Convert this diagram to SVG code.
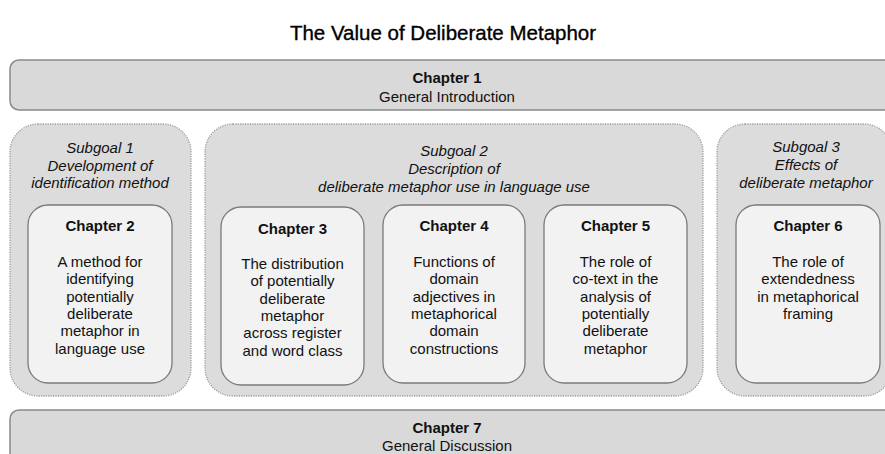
<svg xmlns="http://www.w3.org/2000/svg" width="885" height="454" viewBox="0 0 885 454">
<style>
.bar{fill:#d9d9d9;stroke:#8a8a8a;stroke-width:1.5}
.sg{fill:#dcdcdc;stroke:#9a9a9a;stroke-width:1.3;stroke-dasharray:1.2 1.2}
.ch{fill:#f2f2f2;stroke:#7a7a7a;stroke-width:1.3}
text{font-family:"Liberation Sans",Arial,sans-serif;fill:#111;text-anchor:middle;font-size:15px}
.b{font-weight:bold}
.i{font-style:italic}
.title{font-size:20.5px;fill:#000;stroke:#000;stroke-width:0.35}
</style>
<text class="title" x="443" y="40">The Value of Deliberate Metaphor</text>
<g id="chapter1">
<rect class="bar" x="10" y="60" width="890" height="50" rx="9"/>
<text class="b" x="447" y="83">Chapter 1</text>
<text x="447" y="102">General Introduction</text>
</g>
<g id="subgoal1">
<rect class="sg" x="10" y="124" width="181" height="272" rx="28"/>
<text class="i" x="100" y="153">Subgoal 1</text>
<text class="i" x="100" y="170.5">Development of</text>
<text class="i" x="100" y="188">identification method</text>
</g>
<g id="subgoal2">
<rect class="sg" x="205" y="124" width="498" height="272" rx="28"/>
<text class="i" x="454" y="156">Subgoal 2</text>
<text class="i" x="454" y="174">Description of</text>
<text class="i" x="454" y="191.5">deliberate metaphor use in language use</text>
</g>
<g id="subgoal3">
<rect class="sg" x="717" y="124" width="175" height="272" rx="28"/>
<text class="i" x="806" y="152">Subgoal 3</text>
<text class="i" x="806" y="170">Effects of</text>
<text class="i" x="806" y="187.5">deliberate metaphor</text>
</g>
<g id="chapter2">
<rect class="ch" x="28" y="205" width="144" height="178" rx="20"/>
<text class="b" x="100" y="231">Chapter 2</text>
<text x="100" y="267">A method for</text>
<text x="100" y="284.3">identifying</text>
<text x="100" y="301.6">potentially</text>
<text x="100" y="318.9">deliberate</text>
<text x="100" y="336.2">metaphor in</text>
<text x="100" y="353.5">language use</text>
</g>
<g id="chapter3">
<rect class="ch" x="221" y="207" width="143" height="178" rx="20"/>
<text class="b" x="292.5" y="233.5">Chapter 3</text>
<text x="292.5" y="269">The distribution</text>
<text x="292.5" y="286.3">of potentially</text>
<text x="292.5" y="303.6">deliberate</text>
<text x="292.5" y="320.9">metaphor</text>
<text x="292.5" y="338.2">across register</text>
<text x="292.5" y="355.5">and word class</text>
</g>
<g id="chapter4">
<rect class="ch" x="383" y="205" width="142" height="178" rx="20"/>
<text class="b" x="454" y="231">Chapter 4</text>
<text x="454" y="267">Functions of</text>
<text x="454" y="284.3">domain</text>
<text x="454" y="301.6">adjectives in</text>
<text x="454" y="318.9">metaphorical</text>
<text x="454" y="336.2">domain</text>
<text x="454" y="353.5">constructions</text>
</g>
<g id="chapter5">
<rect class="ch" x="544" y="205" width="143" height="178" rx="20"/>
<text class="b" x="615.5" y="231">Chapter 5</text>
<text x="615.5" y="267">The role of</text>
<text x="615.5" y="284.3">co-text in the</text>
<text x="615.5" y="301.6">analysis of</text>
<text x="615.5" y="318.9">potentially</text>
<text x="615.5" y="336.2">deliberate</text>
<text x="615.5" y="353.5">metaphor</text>
</g>
<g id="chapter6">
<rect class="ch" x="736" y="205" width="144" height="178" rx="20"/>
<text class="b" x="808" y="231">Chapter 6</text>
<text x="808" y="267">The role of</text>
<text x="808" y="284.3">extendedness</text>
<text x="808" y="301.6">in metaphorical</text>
<text x="808" y="318.9">framing</text>
</g>
<g id="chapter7">
<rect class="bar" x="10" y="410" width="890" height="60" rx="9"/>
<text class="b" x="447" y="433">Chapter 7</text>
<text x="447" y="451">General Discussion</text>
</g>
<g id="connectors"/>
</svg>
